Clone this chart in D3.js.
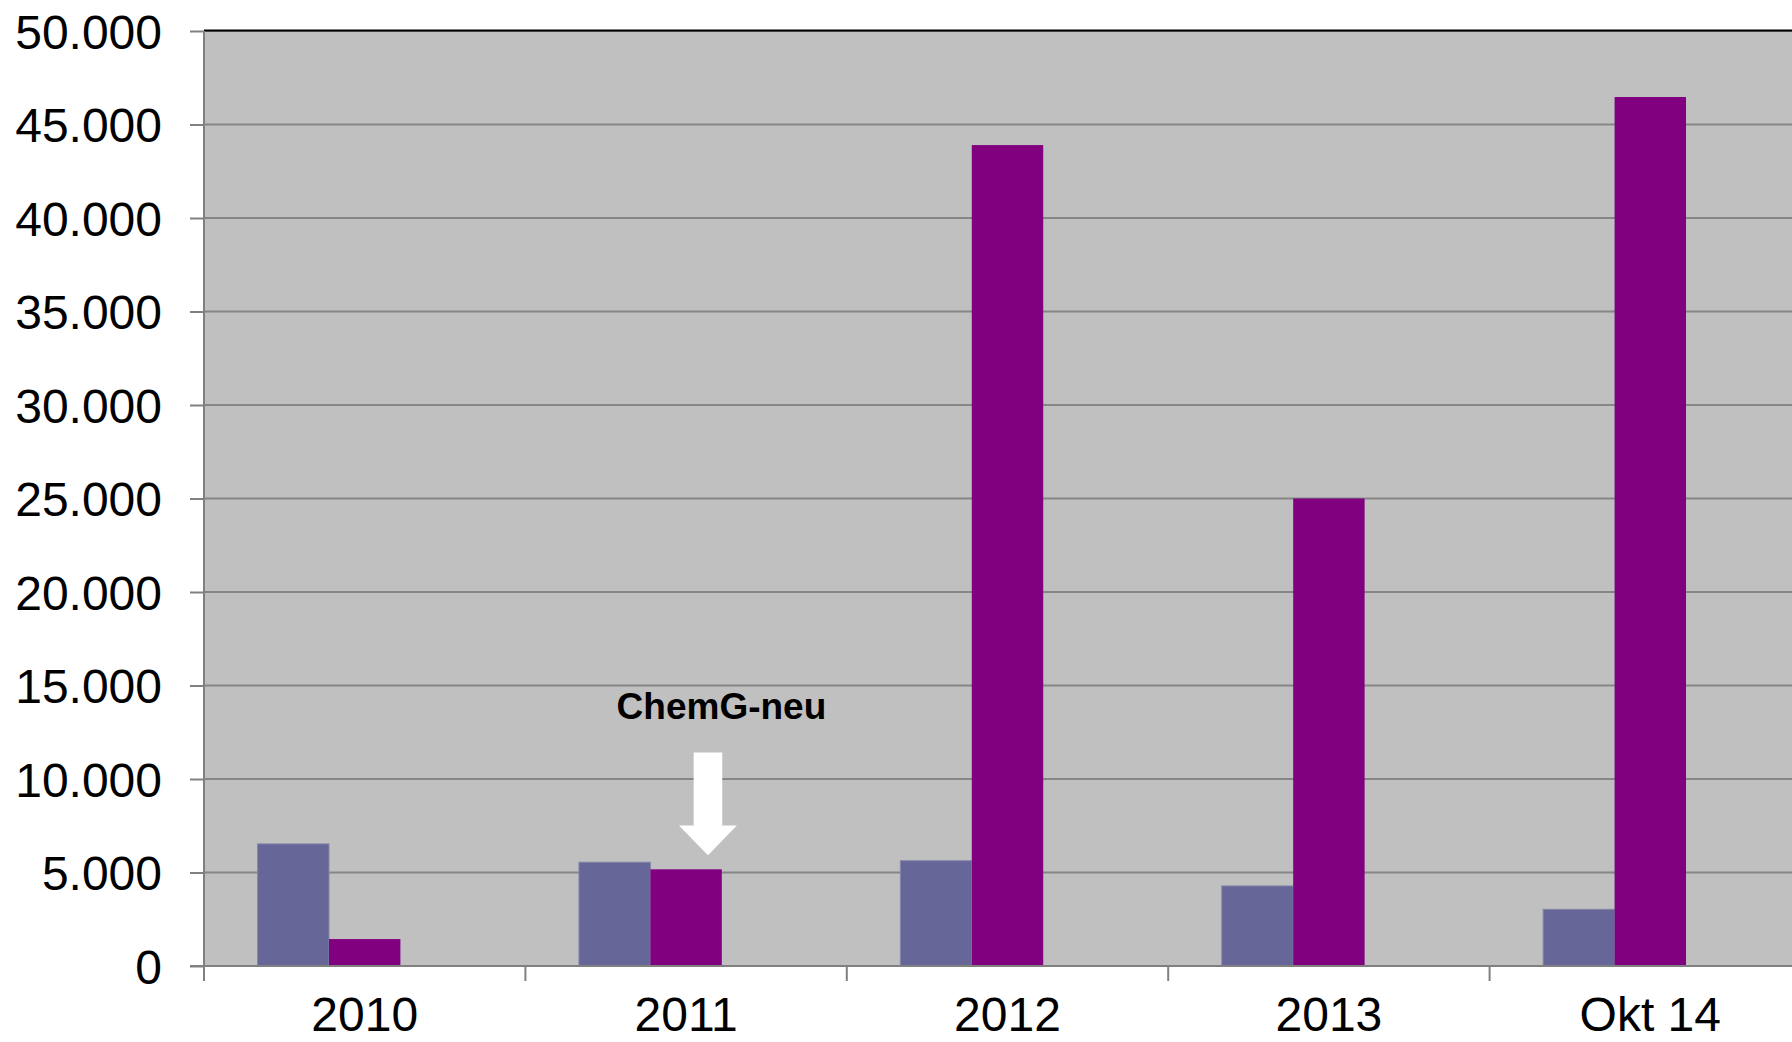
<!DOCTYPE html>
<html>
<head>
<meta charset="utf-8">
<script src="https://cdn.jsdelivr.net/npm/d3@7"></script>
<style>
  html, body { margin: 0; padding: 0; background: #ffffff; }
  svg { display: block; }
  text { font-family: "Liberation Sans", Arial, sans-serif; fill: #000; }
</style>
</head>
<body>
<svg id="chart" width="1792" height="1042"></svg>
<script>
// ---- data ----
const categories = ["2010", "2011", "2012", "2013", "Okt 14"];
const seriesNames = ["Reihe1", "Reihe2", "Reihe3"];
const series1 = [6530, 5550, 5630, 4280, 3030];
const series2 = [1440, 5170, 43900, 25000, 46470];
const series3 = [null, null, null, null, null]; // empty third series (reserves space)
const yTickValues = [0, 5000, 10000, 15000, 20000, 25000, 30000, 35000, 40000, 45000, 50000];
const yTickLabels = ["0", "5.000", "10.000", "15.000", "20.000", "25.000", "30.000", "35.000", "40.000", "45.000", "50.000"];
const annotationText = "ChemG-neu";
const annotationCategory = "2011";

// ---- layout ----
const W = 1792, H = 1042;
const plotLeft = 204, plotTop = 31, plotBottom = 966;
const catWidth = 321.4;
const plotRight = plotLeft + catWidth * categories.length;
const colors = ["#666699", "#800080", "#ffffcc"];

const svg = d3.select("#chart");

const x = d3.scaleBand().domain(categories).range([plotLeft, plotRight]).paddingInner(0).paddingOuter(0);
const xSub = d3.scaleBand().domain(seriesNames).range([0, x.bandwidth()]).paddingInner(0).paddingOuter(0.75);
const y = d3.scaleLinear().domain([0, 50000]).range([plotBottom, plotTop]);

// plot area background
svg.append("rect")
  .attr("x", plotLeft).attr("y", plotTop)
  .attr("width", plotRight - plotLeft).attr("height", plotBottom - plotTop)
  .attr("fill", "#c0c0c0");

// gridlines
svg.append("g").selectAll("line")
  .data(yTickValues.filter(v => v > 0))
  .join("line")
  .attr("x1", plotLeft).attr("x2", plotRight)
  .attr("y1", d => y(d)).attr("y2", d => y(d))
  .attr("stroke", "#868686").attr("stroke-width", 2);

// top border
svg.append("line")
  .attr("x1", plotLeft).attr("x2", plotRight)
  .attr("y1", y(50000) - 0.5).attr("y2", y(50000) - 0.5)
  .attr("stroke", "#000").attr("stroke-width", 2);

// bars
const allSeries = [series1, series2, series3];
const barData = [];
categories.forEach((c, i) => {
  allSeries.forEach((s, j) => {
    if (s[i] != null) barData.push({ cat: c, ser: seriesNames[j], value: s[i], color: colors[j] });
  });
});
svg.append("g").selectAll("rect")
  .data(barData)
  .join("rect")
  .attr("x", d => x(d.cat) + xSub(d.ser))
  .attr("y", d => y(d.value))
  .attr("width", xSub.bandwidth())
  .attr("height", d => y(0) - y(d.value))
  .attr("fill", d => d.color)
  .attr("stroke", d => d.ser === "Reihe1" ? "#8585aa" : "none")
  .attr("stroke-width", 1);

// y axis
const fmtMap = new Map(yTickValues.map((v, i) => [v, yTickLabels[i]]));
const yAxis = d3.axisLeft(y)
  .tickValues(yTickValues)
  .tickSize(14)
  .tickPadding(28)
  .tickFormat(v => fmtMap.get(v));
const gy = svg.append("g").attr("transform", `translate(${plotLeft},0)`).call(yAxis);
gy.select(".domain").attr("stroke", "#808080").attr("stroke-width", 2)
  .attr("d", `M0,${plotTop}V${plotBottom}`);
gy.selectAll(".tick line").attr("stroke", "#808080").attr("stroke-width", 2);
gy.selectAll(".tick text")
  .attr("font-size", 48)
  .attr("font-family", "'Liberation Sans', Arial, sans-serif")
  .attr("fill", "#000")
  .attr("dy", "0.36em");

// x axis line
svg.append("line")
  .attr("x1", plotLeft - 14).attr("x2", plotRight)
  .attr("y1", y(0)).attr("y2", y(0))
  .attr("stroke", "#808080").attr("stroke-width", 2);

// x ticks at category boundaries
const boundaries = categories.map(c => x(c)).concat([x(categories[categories.length - 1]) + x.bandwidth()]);
svg.append("g").selectAll("line")
  .data(boundaries)
  .join("line")
  .attr("x1", d => d).attr("x2", d => d)
  .attr("y1", y(0)).attr("y2", y(0) + 15)
  .attr("stroke", "#808080").attr("stroke-width", 2);

// x labels
svg.append("g").selectAll("text")
  .data(categories)
  .join("text")
  .attr("x", d => x(d) + x.bandwidth() / 2)
  .attr("y", 1031)
  .attr("text-anchor", "middle")
  .attr("font-size", 48)
  .text(d => d);

// annotation
const annCx = x(annotationCategory) + x.bandwidth() * 0.61;
svg.append("text")
  .attr("x", annCx)
  .attr("y", y(13200))
  .attr("text-anchor", "middle")
  .attr("font-size", 37)
  .attr("font-weight", "bold")
  .text(annotationText);

const ax = x(annotationCategory) + x.bandwidth() * 0.568;
const aTop = y(11420), aNeck = y(7520), aTip = y(5920);
const shaftHalf = 14.3, headHalf = 29;
svg.append("path")
  .attr("d", `M${ax - shaftHalf},${aTop} L${ax + shaftHalf},${aTop} L${ax + shaftHalf},${aNeck} L${ax + headHalf},${aNeck} L${ax},${aTip} L${ax - headHalf},${aNeck} L${ax - shaftHalf},${aNeck} Z`)
  .attr("fill", "#ffffff");
</script>
</body>
</html>
